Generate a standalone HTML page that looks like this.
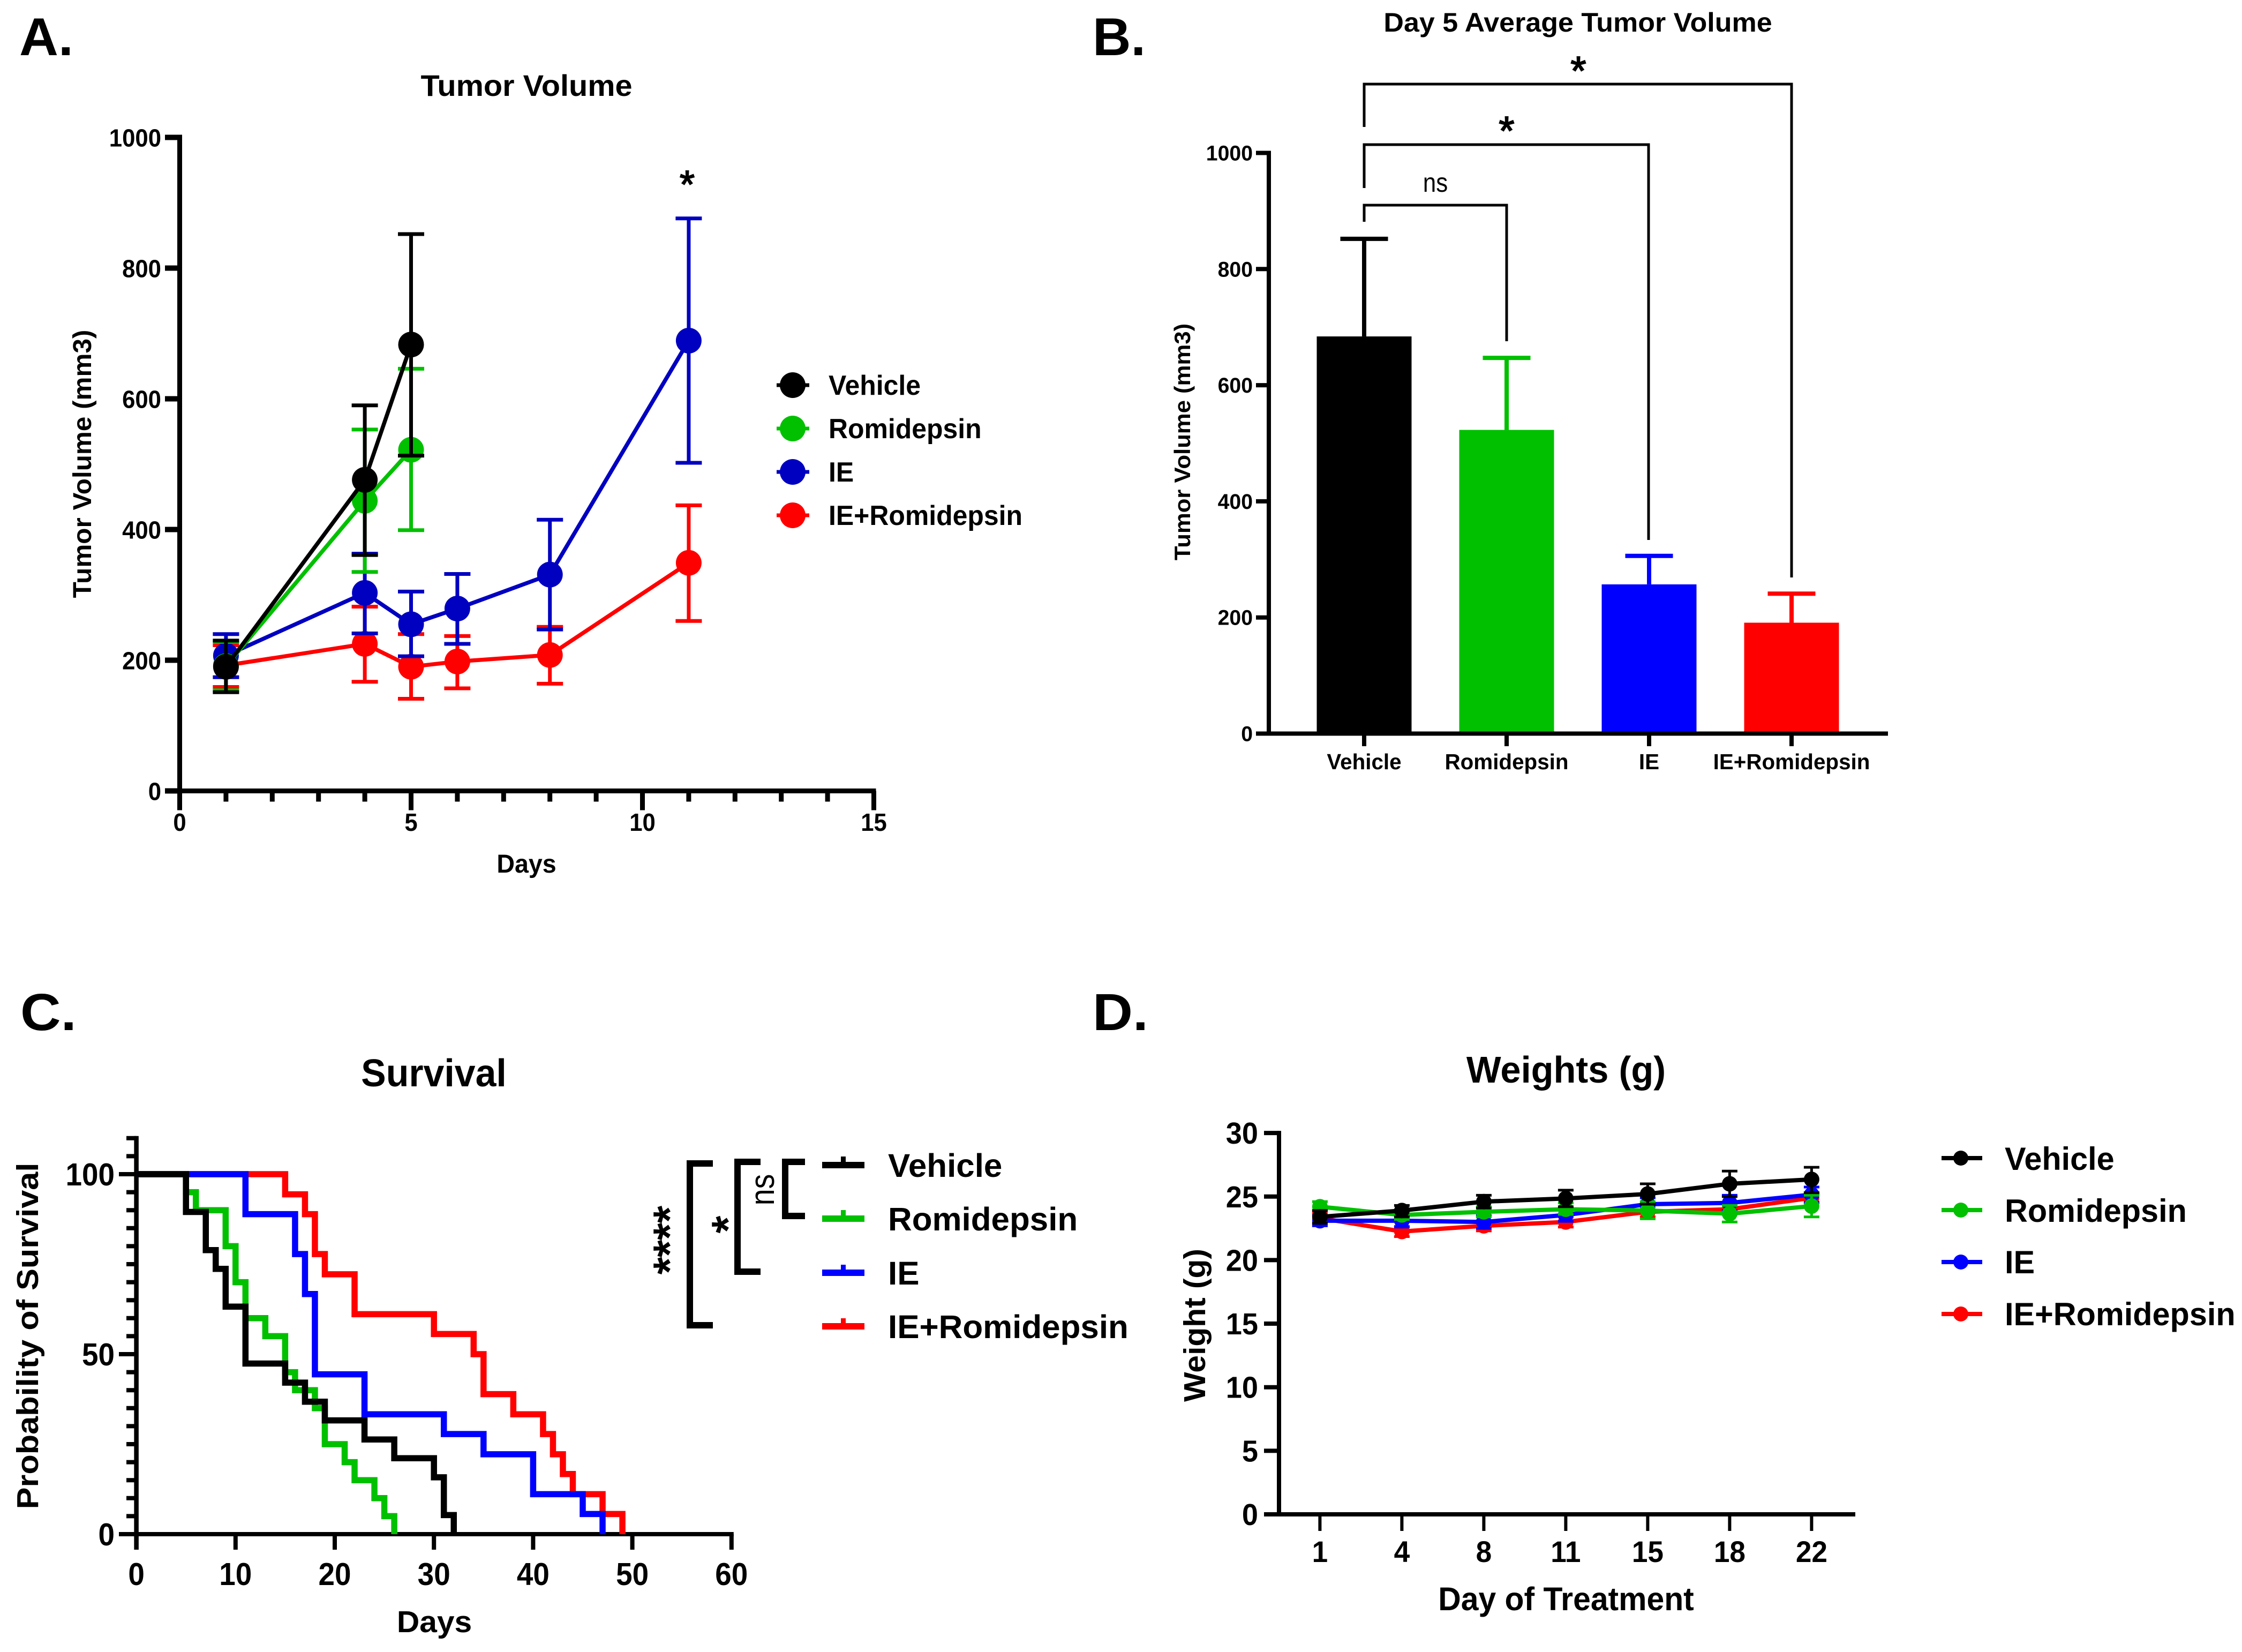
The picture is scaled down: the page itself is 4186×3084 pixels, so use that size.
<!DOCTYPE html>
<html lang="en">
<head>
<meta charset="utf-8">
<title>Tumor volume, survival and weight figure</title>
<style>
html,body{margin:0;padding:0;background:#fff;}
svg{display:block;}
text{font-family:"Liberation Sans",Arial,sans-serif;font-weight:700;fill:#000;}
</style>
</head>
<body>
<svg id="figure" xmlns="http://www.w3.org/2000/svg" width="4186" height="3084" viewBox="0 0 4186 3084">
<rect width="4186" height="3084" fill="#fff"/>

<!-- Panel letters -->
<text transform="translate(36,103) scale(1.02,1)" font-size="99">A.</text>
<text transform="translate(2040,103)" font-size="99">B.</text>
<text transform="translate(38,1923) scale(1.08,1)" font-size="97">C.</text>
<text transform="translate(2040,1923) scale(1.07,1)" font-size="97">D.</text>

<!-- Panel A static text -->
<text transform="translate(983,179) scale(1.03,1)" font-size="56" text-anchor="middle">Tumor Volume</text>
<text transform="translate(983,1629) scale(.97,1)" font-size="48" text-anchor="middle">Days</text>
<text transform="translate(170,866) rotate(-90) scale(1.03,1)" font-size="48" text-anchor="middle">Tumor Volume (mm3)</text>
<text transform="translate(1283,369)" font-size="72" text-anchor="middle" stroke="#000" stroke-width="2" style="font-weight:400">*</text>
<g>
  <g><line x1="1450" x2="1511" y1="719" y2="719" stroke="#000" stroke-width="7"/><circle cx="1480" cy="719" r="24" fill="#000"/><text transform="translate(1547,737) scale(.96,1)" font-size="52">Vehicle</text></g>
  <g><line x1="1450" x2="1511" y1="800" y2="800" stroke="#00c000" stroke-width="7"/><circle cx="1480" cy="800" r="24" fill="#00c000"/><text transform="translate(1547,818) scale(.96,1)" font-size="52">Romidepsin</text></g>
  <g><line x1="1450" x2="1511" y1="881" y2="881" stroke="#0000c0" stroke-width="7"/><circle cx="1480" cy="881" r="24" fill="#0000c0"/><text transform="translate(1547,899) scale(.96,1)" font-size="52">IE</text></g>
  <g><line x1="1450" x2="1511" y1="962" y2="962" stroke="#f00" stroke-width="7"/><circle cx="1480" cy="962" r="24" fill="#f00"/><text transform="translate(1547,980) scale(.96,1)" font-size="52">IE+Romidepsin</text></g>
</g>

<!-- Panel B static text -->
<text transform="translate(2946,59) scale(1.04,1)" font-size="50" text-anchor="middle">Day 5 Average Tumor Volume</text>
<text transform="translate(2222,825) rotate(-90) scale(1.04,1)" font-size="42" text-anchor="middle">Tumor Volume (mm3)</text>
<g fill="none" stroke="#000" stroke-width="5">
  <polyline points="2547,237 2547,157 3345,157 3345,1078"/>
  <polyline points="2547,351 2547,270 3078,270 3078,1008"/>
  <polyline points="2547,414 2547,383 2813,383 2813,637"/>
</g>
<text transform="translate(2947,158)" font-size="75" text-anchor="middle" stroke="#000" stroke-width="2" style="font-weight:400">*</text>
<text transform="translate(2813,270)" font-size="75" text-anchor="middle" stroke="#000" stroke-width="2" style="font-weight:400">*</text>
<text transform="translate(2680,358) scale(.88,1)" font-size="50" text-anchor="middle" style="font-weight:400">ns</text>

<!-- Panel C static text -->
<text transform="translate(810,2028) scale(.97,1)" font-size="72" text-anchor="middle">Survival</text>
<text transform="translate(811,3047) scale(1.03,1)" font-size="57" text-anchor="middle">Days</text>
<text transform="translate(71,2494) rotate(-90) scale(1.075,1)" font-size="57" text-anchor="middle">Probability of Survival</text>
<g fill="none" stroke="#000" stroke-width="12">
  <polyline points="1331,2172 1288,2172 1288,2474 1331,2474"/>
  <polyline points="1420,2169 1377,2169 1377,2374 1420,2374"/>
  <polyline points="1503,2169 1466,2169 1466,2270 1503,2270"/>
</g>
<text transform="translate(1278,2315) rotate(-90)" font-size="82" text-anchor="middle" stroke="#000" stroke-width="2.5" style="font-weight:400">****</text>
<text transform="translate(1387,2286) rotate(-90)" font-size="82" text-anchor="middle" stroke="#000" stroke-width="2.5" style="font-weight:400">*</text>
<text transform="translate(1445,2221) rotate(-90) scale(.87,1)" font-size="64" text-anchor="middle" style="font-weight:400">ns</text>
<g>
  <g><rect x="1535" y="2169" width="79" height="12" fill="#000"/><rect x="1570" y="2159" width="9" height="12" fill="#000"/><text transform="translate(1658,2197) scale(1.015,1)" font-size="61">Vehicle</text></g>
  <g><rect x="1535" y="2269" width="79" height="12" fill="#00c000"/><rect x="1570" y="2259" width="9" height="12" fill="#00c000"/><text transform="translate(1658,2297) scale(1.015,1)" font-size="61">Romidepsin</text></g>
  <g><rect x="1535" y="2370" width="79" height="12" fill="#00f"/><rect x="1570" y="2361" width="9" height="12" fill="#00f"/><text transform="translate(1658,2398) scale(1.015,1)" font-size="61">IE</text></g>
  <g><rect x="1535" y="2470" width="79" height="12" fill="#f00"/><rect x="1570" y="2461" width="9" height="12" fill="#f00"/><text transform="translate(1658,2498) scale(1.015,1)" font-size="61">IE+Romidepsin</text></g>
</g>

<!-- Panel D static text -->
<text transform="translate(2924,2021) scale(.98,1)" font-size="70" text-anchor="middle">Weights (g)</text>
<text transform="translate(2924,3006) scale(.965,1)" font-size="61" text-anchor="middle">Day of Treatment</text>
<text transform="translate(2250,2474) rotate(-90) scale(1.03,1)" font-size="57" text-anchor="middle">Weight (g)</text>
<g>
  <g><line x1="3625" x2="3701" y1="2162" y2="2162" stroke="#000" stroke-width="8"/><circle cx="3661" cy="2162" r="14" fill="#000"/><text transform="translate(3743,2184) scale(.99,1)" font-size="60">Vehicle</text></g>
  <g><line x1="3625" x2="3701" y1="2259" y2="2259" stroke="#00c000" stroke-width="8"/><circle cx="3661" cy="2259" r="14" fill="#00c000"/><text transform="translate(3743,2281) scale(.99,1)" font-size="60">Romidepsin</text></g>
  <g><line x1="3625" x2="3701" y1="2356" y2="2356" stroke="#00f" stroke-width="8"/><circle cx="3661" cy="2356" r="14" fill="#00f"/><text transform="translate(3743,2377) scale(.99,1)" font-size="60">IE</text></g>
  <g><line x1="3625" x2="3701" y1="2453" y2="2453" stroke="#f00" stroke-width="8"/><circle cx="3661" cy="2453" r="14" fill="#f00"/><text transform="translate(3743,2474) scale(.99,1)" font-size="60">IE+Romidepsin</text></g>
</g>
</svg>

<script>
/* ---------- Panel A data: tumor volume over time ---------- */
const tumorXTickLabels = [0, 5, 10, 15];
const tumorYTickLabels = [0, 200, 400, 600, 800, 1000];
const tumorIeDays = [1, 4, 5, 6, 8, 11];
const tumorIeMean = [207, 303, 255, 279, 331, 689];
const tumorIeUpper = [240, 363, 305, 332, 415, 876];
const tumorIeLower = [174, 241, 206, 225, 247, 502];
const tumorComboDays = [1, 4, 5, 6, 8, 11];
const tumorComboMean = [192, 225, 190, 198, 208, 349];
const tumorComboUpper = [223, 282, 240, 237, 251, 437];
const tumorComboLower = [159, 167, 141, 157, 164, 260];
const tumorRomiDays = [1, 4, 5];
const tumorRomiMean = [191, 444, 522];
const tumorRomiUpper = [228, 553, 646];
const tumorRomiLower = [154, 335, 399];
const tumorVehicleDays = [1, 4, 5];
const tumorVehicleMean = [190, 476, 683];
const tumorVehicleUpper = [230, 590, 852];
const tumorVehicleLower = [151, 361, 513];

/* ---------- Panel B data: day 5 average ---------- */
const day5Groups = ['Vehicle', 'Romidepsin', 'IE', 'IE+Romidepsin'];
const day5Means = [684, 523, 257, 191];
const day5Upper = [852, 647, 306, 241];
const day5YTickLabels = [0, 200, 400, 600, 800, 1000];

/* ---------- Panel C data: survival steps ---------- */
const survivalXTickLabels = [0, 10, 20, 30, 40, 50, 60];
const survivalYMajorLabels = [0, 50, 100];
const survivalYMinorTicks = [0, 5, 10, 15, 20, 25, 30, 35, 40, 45, 50, 55, 60, 65, 70, 75, 80, 85, 90, 95, 100, 105, 110];
const survivalComboDays = [0, 15, 17, 18, 19, 22, 30, 34, 35, 38, 41, 42, 43, 44, 47, 49];
const survivalComboPct = [100, 94.4, 88.9, 77.8, 72.2, 61.1, 55.6, 50, 38.9, 33.3, 27.8, 22.2, 16.7, 11.1, 5.6, 0];
const survivalIeDays = [0, 11, 16, 17, 18, 23, 31, 35, 40, 45, 47];
const survivalIePct = [100, 88.9, 77.8, 66.7, 44.4, 33.3, 27.8, 22.2, 11.1, 5.6, 0];
const survivalRomiDays = [0, 5, 6, 9, 10, 11, 13, 15, 16, 18, 19, 21, 22, 24, 25, 26];
const survivalRomiPct = [100, 95, 90, 80, 70, 60, 55, 45, 40, 35, 25, 20, 15, 10, 5, 0];
const survivalVehicleDays = [0, 5, 7, 8, 9, 11, 15, 17, 19, 23, 26, 30, 31, 32];
const survivalVehiclePct = [100, 89.5, 78.9, 73.7, 63.2, 47.4, 42.1, 36.8, 31.6, 26.3, 21.1, 15.8, 5.3, 0];

/* ---------- Panel D data: body weights ---------- */
const weightDays = ['1', '4', '8', '11', '15', '18', '22'];
const weightYTickLabels = [0, 5, 10, 15, 20, 25, 30];
const weightComboMean = [23.3, 22.25, 22.7, 23.0, 23.8, 24.0, 24.9];
const weightComboUpper = [23.7, 22.65, 23.1, 23.4, 24.2, 24.4, 25.3];
const weightComboLower = [22.9, 21.85, 22.3, 22.6, 23.4, 23.6, 24.5];
const weightIeMean = [23.1, 23.1, 23.0, 23.55, 24.4, 24.5, 25.15];
const weightIeUpper = [23.5, 23.6, 23.5, 24.05, 24.9, 25.1, 25.75];
const weightIeLower = [22.7, 22.6, 22.5, 23.05, 23.9, 23.9, 24.55];
const weightRomiMean = [24.2, 23.55, 23.8, 24.0, 23.9, 23.65, 24.25];
const weightRomiUpper = [24.6, 23.85, 24.2, 24.5, 24.6, 24.3, 25.1];
const weightRomiLower = [23.9, 23.2, 23.4, 23.6, 23.25, 23.0, 23.4];
const weightVehicleMean = [23.4, 23.9, 24.6, 24.85, 25.2, 26.0, 26.35];
const weightVehicleUpper = [23.9, 24.3, 25.1, 25.5, 26.0, 27.0, 27.3];
const weightVehicleLower = [22.9, 23.4, 24.1, 24.2, 24.4, 25.0, 25.3];

const BLACK = '#000000', GREEN = '#00c000', BLUE = '#0000ff', DARKBLUE = '#0000c0', RED = '#ff0000';
const NS = 'http://www.w3.org/2000/svg';
const figure = document.getElementById('figure');

function make(parent, tag, attrs, name) {
  const el = document.createElementNS(NS, tag);
  for (const key in attrs) el.setAttribute(key, attrs[key]);
  
  
  parent.appendChild(el);
  return el;
}
function group(name) {
  return make(figure, 'g', {}, name);
}
function seg(parent, x1, y1, x2, y2, color, width, name) {
  return make(parent, 'line', {x1: x1, y1: y1, x2: x2, y2: y2, stroke: color, 'stroke-width': width}, name);
}
function label(parent, x, y, str, size, sx, anchor, name) {
  const el = make(parent, 'text', {transform: 'translate(' + x + ',' + y + ') scale(' + sx + ',1)', 'font-size': size, 'text-anchor': anchor}, name);
  el.textContent = str;
  return el;
}
function errorSeries(parent, xs, mean, upper, lower, xScale, yScale, color, style, name) {
  const g = make(parent, 'g', {}, name);
  xs.forEach(function (x, i) {
    const px = xScale(x);
    seg(g, px, yScale(upper[i]), px, yScale(lower[i]), color, style.err, 'error-bar');
    seg(g, px - style.cap, yScale(upper[i]), px + style.cap, yScale(upper[i]), color, style.capW, 'error-cap-upper');
    seg(g, px - style.cap, yScale(lower[i]), px + style.cap, yScale(lower[i]), color, style.capW, 'error-cap-lower');
  });
  const pts = xs.map(function (x, i) { return xScale(x) + ',' + yScale(mean[i]); }).join(' ');
  make(g, 'polyline', {points: pts, fill: 'none', stroke: color, 'stroke-width': style.line, 'stroke-linejoin': 'round'}, 'series-line');
  xs.forEach(function (x, i) {
    make(g, 'circle', {cx: xScale(x), cy: yScale(mean[i]), r: style.r, fill: color}, 'data-point');
  });
}

/* ---------- Panel A ---------- */
(function () {
  const x = function (d) { return 335.5 + 86.4 * d; };
  const y = function (v) { return 1476.5 - 1.22 * v; };
  const axes = group('panel-a-axes');
  seg(axes, x(0), y(1000) - 5, x(0), y(0) + 36, BLACK, 9, 'y-axis');
  seg(axes, x(0) - 4, y(0), x(15) + 4, y(0), BLACK, 9, 'x-axis');
  tumorYTickLabels.forEach(function (v) {
    seg(axes, 308, y(v), x(0), y(v), BLACK, 10, 'y-tick');
    label(axes, 301, y(v) + 17, v, 46, 0.95, 'end', 'y-tick-label');
  });
  for (let d = 1; d <= 15; d++) {
    seg(axes, x(d), y(0), x(d), y(0) + (d % 5 === 0 ? 36 : 20), BLACK, 9, 'x-tick');
  }
  tumorXTickLabels.forEach(function (d) {
    label(axes, x(d), 1551, d, 46, 0.95, 'middle', 'x-tick-label');
  });
  const st = {err: 7, cap: 24.5, capW: 7, line: 7.5, r: 24};
  const plot = group('panel-a-series');
  errorSeries(plot, tumorComboDays, tumorComboMean, tumorComboUpper, tumorComboLower, x, y, RED, st, 'series-ie-romidepsin');
  errorSeries(plot, tumorIeDays, tumorIeMean, tumorIeUpper, tumorIeLower, x, y, DARKBLUE, st, 'series-ie');
  errorSeries(plot, tumorRomiDays, tumorRomiMean, tumorRomiUpper, tumorRomiLower, x, y, GREEN, st, 'series-romidepsin');
  errorSeries(plot, tumorVehicleDays, tumorVehicleMean, tumorVehicleUpper, tumorVehicleLower, x, y, BLACK, st, 'series-vehicle');
})();

/* ---------- Panel B ---------- */
(function () {
  const colors = [BLACK, GREEN, BLUE, RED];
  const barW = 177;
  const x = function (i) { return 2547 + 266 * i; };
  const y = function (v) { return 1369.5 - 1.084 * v; };
  const axes = group('panel-b-axes');
  const bars = group('panel-b-bars');
  day5Groups.forEach(function (name, i) {
    seg(bars, x(i), y(day5Means[i]), x(i), y(day5Upper[i]), colors[i], 8, 'error-bar');
    seg(bars, x(i) - 44.5, y(day5Upper[i]), x(i) + 44.5, y(day5Upper[i]), colors[i], 8, 'error-cap');
    make(bars, 'rect', {x: x(i) - barW / 2, y: y(day5Means[i]), width: barW, height: y(0) - y(day5Means[i]), fill: colors[i]}, 'bar');
    seg(axes, x(i), y(0), x(i), 1393, BLACK, 8, 'x-tick');
    label(axes, x(i), 1436, name, 41, 0.985, 'middle', 'x-tick-label');
  });
  seg(figure, 2369, y(1000) - 4, 2369, y(0) + 4, BLACK, 8, 'y-axis');
  seg(figure, 2345, y(0), 3525, y(0), BLACK, 8, 'x-axis');
  day5YTickLabels.forEach(function (v) {
    seg(axes, 2345, y(v), 2369, y(v), BLACK, 8, 'y-tick');
    label(axes, 2339, y(v) + 14, v, 40, 0.98, 'end', 'y-tick-label');
  });
})();

/* ---------- Panel C ---------- */
(function () {
  const x = function (d) { return 254.6 + 18.52 * d; };
  const y = function (p) { return 2864 - 6.72 * p; };
  const axes = group('panel-c-axes');
  seg(axes, x(0), y(110) - 4, x(0), 2893, BLACK, 8.5, 'y-axis');
  seg(axes, x(0), y(0), x(60) + 4, y(0), BLACK, 8, 'x-axis');
  survivalYMinorTicks.forEach(function (p) {
    seg(axes, 236, y(p), x(0), y(p), BLACK, 8, 'y-minor-tick');
  });
  survivalYMajorLabels.forEach(function (p) {
    seg(axes, 222, y(p), x(0), y(p), BLACK, 8, 'y-major-tick');
    label(axes, 214, y(p) + 21, p, 59, 0.93, 'end', 'y-tick-label');
  });
  survivalXTickLabels.forEach(function (d) {
    seg(axes, x(d), y(0), x(d), 2893, BLACK, 8, 'x-tick');
    label(axes, x(d), 2959, d, 59, 0.93, 'middle', 'x-tick-label');
  });
  function steps(days, pct, color, name) {
    let pts = x(days[0]) + ',' + y(pct[0]);
    for (let i = 1; i < days.length; i++) {
      pts += ' ' + x(days[i]) + ',' + y(pct[i - 1]) + ' ' + x(days[i]) + ',' + y(pct[i]);
    }
    make(figure, 'polyline', {points: pts, fill: 'none', stroke: color, 'stroke-width': 11.5, 'stroke-linejoin': 'miter'}, name);
  }
  steps(survivalComboDays, survivalComboPct, RED, 'survival-curve-ie-romidepsin');
  steps(survivalRomiDays, survivalRomiPct, GREEN, 'survival-curve-romidepsin');
  steps(survivalIeDays, survivalIePct, BLUE, 'survival-curve-ie');
  steps(survivalVehicleDays, survivalVehiclePct, BLACK, 'survival-curve-vehicle');
})();

/* ---------- Panel D ---------- */
(function () {
  const x = function (i) { return 2464.4 + 153 * i; };
  const y = function (v) { return 2827 - 23.73 * v; };
  const idx = weightDays.map(function (d, i) { return i; });
  const axes = group('panel-d-axes');
  seg(axes, 2388, y(30) - 4, 2388, y(0) + 4, BLACK, 8, 'y-axis');
  seg(axes, 2360, y(0), 3464, y(0), BLACK, 8, 'x-axis');
  weightYTickLabels.forEach(function (v) {
    seg(axes, 2360, y(v), 2388, y(v), BLACK, 8, 'y-tick');
    label(axes, 2349, y(v) + 20, v, 57, 0.95, 'end', 'y-tick-label');
  });
  weightDays.forEach(function (d, i) {
    seg(axes, x(i), y(0), x(i), 2858, BLACK, 6, 'x-tick');
    label(axes, x(i), 2916, d, 56, 0.95, 'middle', 'x-tick-label');
  });
  const st = {err: 5, cap: 14.5, capW: 5, line: 8, r: 14.5};
  const plot = group('panel-d-series');
  errorSeries(plot, idx, weightComboMean, weightComboUpper, weightComboLower, x, y, RED, st, 'series-ie-romidepsin');
  errorSeries(plot, idx, weightIeMean, weightIeUpper, weightIeLower, x, y, BLUE, st, 'series-ie');
  errorSeries(plot, idx, weightRomiMean, weightRomiUpper, weightRomiLower, x, y, GREEN, st, 'series-romidepsin');
  errorSeries(plot, idx, weightVehicleMean, weightVehicleUpper, weightVehicleLower, x, y, BLACK, st, 'series-vehicle');
})();
</script>
</body>
</html>
